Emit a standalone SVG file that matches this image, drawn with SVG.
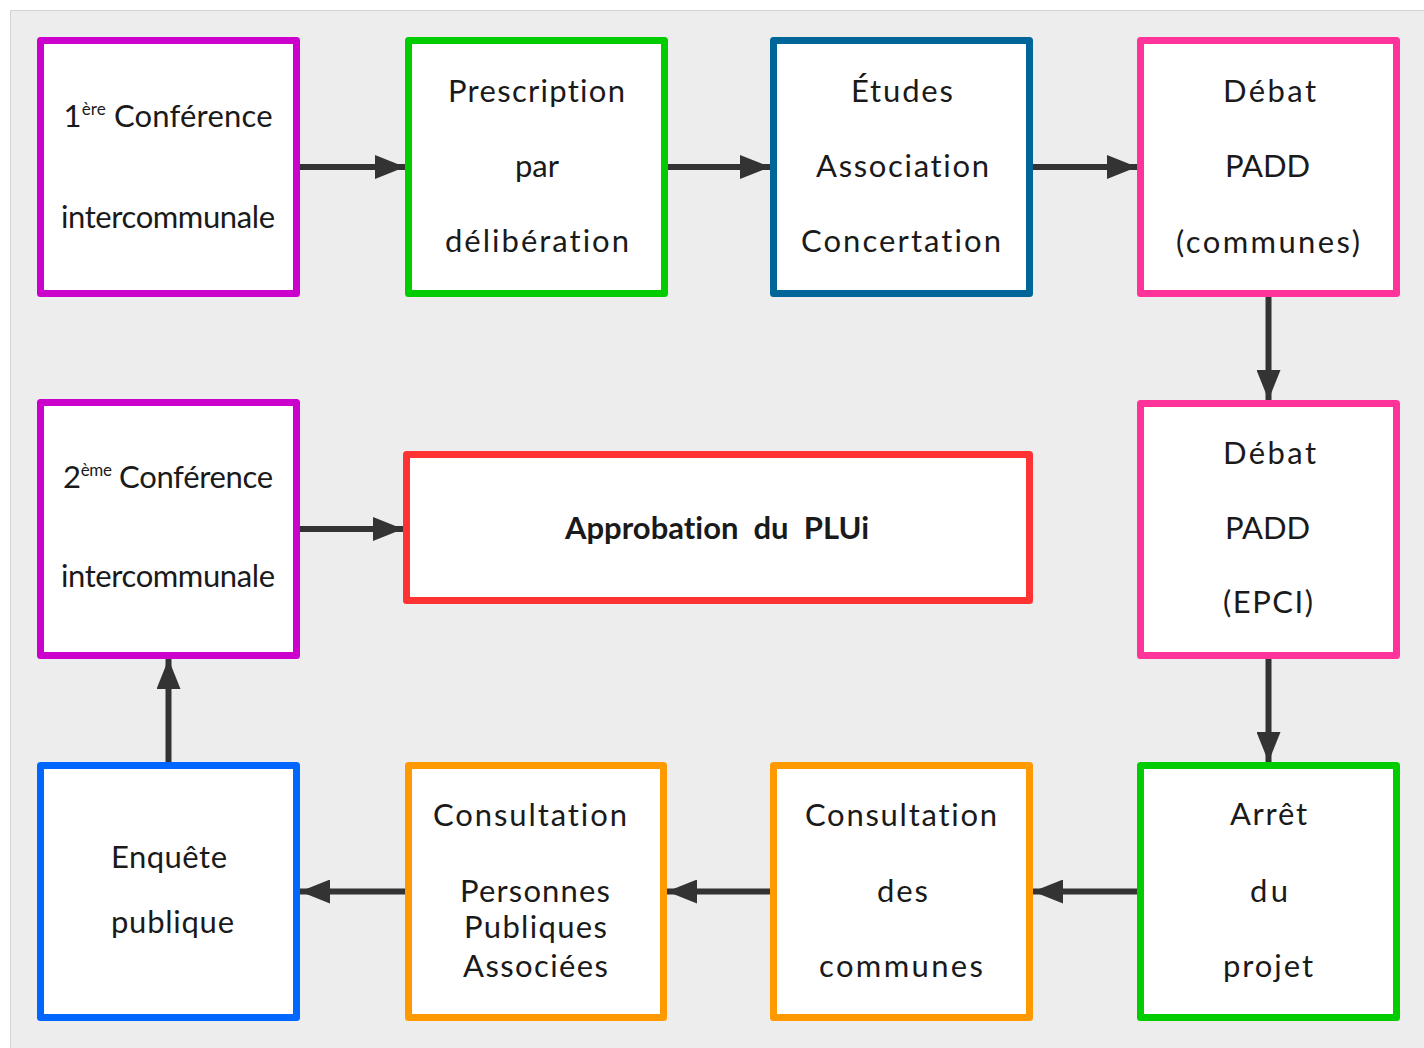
<svg xmlns="http://www.w3.org/2000/svg" width="1424" height="1048" viewBox="0 0 1424 1048">
<defs>
<style>
.bg{fill:#ededed;stroke:#d4d4d4;stroke-width:1}
.box{fill:#ffffff;stroke-width:7;stroke-linejoin:round}
.t{font-family:Lato,"Noto Sans",sans-serif;font-size:31px;fill:#1a1a1a;text-anchor:middle;font-variant-ligatures:none;font-feature-settings:"liga" 0,"dlig" 0}
.b{font-weight:bold;white-space:pre}
.sup{font-size:17px}
.c line{stroke:#333333;stroke-width:6}
</style>
<marker id="ah" markerUnits="userSpaceOnUse" markerWidth="32" markerHeight="24" refX="30" refY="12" orient="auto">
<path d="M0,0 L30,12 L0,24 Z" fill="#333333"/>
</marker>
</defs>
<rect class="bg" x="10.5" y="10.5" width="1420" height="1045"/>
<g class="c" id="connectors">
<line x1="300" y1="167" x2="405" y2="167" marker-end="url(#ah)"/>
<line x1="668" y1="167" x2="770" y2="167" marker-end="url(#ah)"/>
<line x1="1033" y1="167" x2="1137" y2="167" marker-end="url(#ah)"/>
<line x1="1268.5" y1="297" x2="1268.5" y2="400" marker-end="url(#ah)"/>
<line x1="1268.5" y1="659" x2="1268.5" y2="762" marker-end="url(#ah)"/>
<line x1="1137" y1="891.5" x2="1033" y2="891.5" marker-end="url(#ah)"/>
<line x1="770" y1="891.5" x2="667" y2="891.5" marker-end="url(#ah)"/>
<line x1="405" y1="891.5" x2="300" y2="891.5" marker-end="url(#ah)"/>
<line x1="168.5" y1="762" x2="168.5" y2="659" marker-end="url(#ah)"/>
<line x1="300" y1="529" x2="403" y2="529" marker-end="url(#ah)"/>
</g>
<g id="n1">
<rect class="box" x="40.5" y="40.5" width="256" height="253" stroke="#cc00cc"/>
<text class="t" x="168" y="127" textLength="209" lengthAdjust="spacing">1<tspan class="sup" dy="-12">ère</tspan><tspan dy="12"> Conférence</tspan></text>
<text class="t" x="168" y="228" textLength="214" lengthAdjust="spacing">intercommunale</text>
</g>
<g id="n2">
<rect class="box" x="408.5" y="40.5" width="256" height="253" stroke="#00cc00"/>
<text class="t" x="536.5" y="102" textLength="177" lengthAdjust="spacing">Prescription</text>
<text class="t" x="537" y="177">par</text>
<text class="t" x="537" y="252" textLength="184" lengthAdjust="spacing">délibération</text>
</g>
<g id="n3">
<rect class="box" x="773.5" y="40.5" width="256" height="253" stroke="#006699"/>
<text class="t" x="902" y="102" textLength="102" lengthAdjust="spacing">Études</text>
<text class="t" x="902.5" y="177" textLength="173" lengthAdjust="spacing">Association</text>
<text class="t" x="901" y="252" textLength="200" lengthAdjust="spacing">Concertation</text>
</g>
<g id="n4">
<rect class="box" x="1140.5" y="40.5" width="256" height="253" stroke="#ff3399"/>
<text class="t" x="1269.5" y="102" textLength="93" lengthAdjust="spacing">Débat</text>
<text class="t" x="1267.5" y="177" textLength="85" lengthAdjust="spacing">PADD</text>
<text class="t" x="1268" y="253" textLength="184" lengthAdjust="spacing">(communes)</text>
</g>
<g id="n5">
<rect class="box" x="1140.5" y="403.5" width="256" height="252" stroke="#ff3399"/>
<text class="t" x="1269.5" y="464" textLength="93" lengthAdjust="spacing">Débat</text>
<text class="t" x="1267.5" y="539" textLength="85" lengthAdjust="spacing">PADD</text>
<text class="t" x="1268" y="613" textLength="90" lengthAdjust="spacing">(EPCI)</text>
</g>
<g id="n6">
<rect class="box" x="1140.5" y="765.5" width="256" height="252" stroke="#00cc00"/>
<text class="t" x="1268.5" y="825" textLength="77" lengthAdjust="spacing">Arrêt</text>
<text class="t" x="1269" y="902" textLength="38" lengthAdjust="spacing">du</text>
<text class="t" x="1268" y="977" textLength="90" lengthAdjust="spacing">projet</text>
</g>
<g id="n7">
<rect class="box" x="773.5" y="765.5" width="256" height="252" stroke="#ff9900"/>
<text class="t" x="901" y="826" textLength="192" lengthAdjust="spacing">Consultation</text>
<text class="t" x="902.5" y="902" textLength="51" lengthAdjust="spacing">des</text>
<text class="t" x="901" y="977" textLength="164" lengthAdjust="spacing">communes</text>
</g>
<g id="n8">
<rect class="box" x="408.5" y="765.5" width="255" height="252" stroke="#ff9900"/>
<text class="t" x="530" y="826" textLength="194" lengthAdjust="spacing">Consultation</text>
<text class="t" x="535" y="902" textLength="150" lengthAdjust="spacing">Personnes</text>
<text class="t" x="535.5" y="938" textLength="143" lengthAdjust="spacing">Publiques</text>
<text class="t" x="535.5" y="977" textLength="145" lengthAdjust="spacing">Associées</text>
</g>
<g id="n9">
<rect class="box" x="40.5" y="765.5" width="256" height="252" stroke="#0066ff"/>
<text class="t" x="169" y="868" textLength="116" lengthAdjust="spacing">Enquête</text>
<text class="t" x="172.5" y="933" textLength="123" lengthAdjust="spacing">publique</text>
</g>
<g id="n10">
<rect class="box" x="40.5" y="402.5" width="256" height="253" stroke="#cc00cc"/>
<text class="t" x="168" y="488" textLength="210" lengthAdjust="spacing">2<tspan class="sup" dy="-12">ème</tspan><tspan dy="12"> Conférence</tspan></text>
<text class="t" x="168" y="587" textLength="214" lengthAdjust="spacing">intercommunale</text>
</g>
<g id="n11">
<rect class="box" x="406.5" y="454.5" width="623" height="146" stroke="#ff3333"/>
<text class="t b" x="717" y="539" textLength="304" lengthAdjust="spacing">Approbation  du  PLUi</text>
</g>
</svg>
